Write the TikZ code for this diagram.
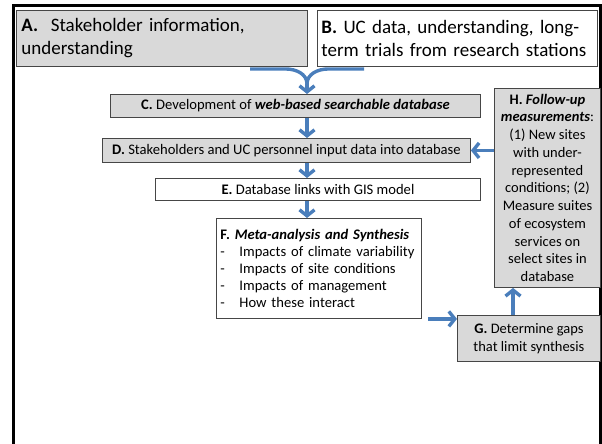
\documentclass[tikz,border=0pt]{standalone}
\usepackage{fontspec}
\setmainfont{Carlito}
\usetikzlibrary{arrows.meta}
\definecolor{flowblue}{RGB}{74,126,187}
\definecolor{boxgrey}{RGB}{217,217,217}
\definecolor{boxline}{RGB}{70,70,70}
\tikzset{box/.style={draw=boxline,line width=0.9pt,inner sep=0pt,anchor=north west}}
\tikzset{greybox/.style={box,fill=boxgrey}}
\tikzset{flow/.style={draw=flowblue,line width=3.4pt,-{Straight Barb[length=6pt,width=15pt]}}}
\tikzset{brace/.style={draw=flowblue,line width=3.4pt}}
\newcommand{\midfont}{\fontsize{14.6}{17}\selectfont}
\newcommand{\topfont}{\fontsize{19}{23}\selectfont}

\begin{document}
\begin{tikzpicture}[x=1pt,y=-1pt]
        \useasboundingbox (0,0) rectangle (602,444);
        % Draw the outer frame
        \draw[line width=3pt] (13,6) rectangle (600.5,470);
        % Boxes on top
        \node[greybox,minimum width=291pt,minimum height=56pt,
        text width=281pt,align=left,font=\topfont]
        (A) at (16,10) {\textbf{A.}~ Stakeholder information,\\understanding};
        \node[box,fill=white,minimum width=280pt,minimum height=56pt,
        text width=272pt,align=left,font=\topfont]
        (B) at (317,10) {\textbf{B.} UC data, understanding, long-\\term trials from research stations};
        % Middle column
        \node[greybox,minimum width=370pt,minimum height=23pt,font=\midfont]
        (C) at (110,94) {\textbf{C.} Development of \textbf{\textit{web-based searchable database}}};
        \node[greybox,minimum width=368pt,minimum height=24pt,font=\midfont]
        (D) at (102,138) {\textbf{D.} Stakeholders and UC personnel input data into database};
        \node[box,fill=white,minimum width=325pt,minimum height=22pt,font=\midfont]
        (E) at (155,178) {\textbf{E.} Database links with GIS model};
        \node[box,fill=white,minimum width=205pt,minimum height=100pt,
        text width=197pt,align=left,font=\midfont]
        (F) at (216,218) {\textbf{F.} \textbf{\textit{Meta-analysis and Synthesis}}\\
        \makebox[19pt][l]{-}Impacts of climate variability\\
        \makebox[19pt][l]{-}Impacts of site conditions\\
        \makebox[19pt][l]{-}Impacts of management\\
        \makebox[19pt][l]{-}How these interact};
        % Right column
        \node[greybox,minimum width=143pt,minimum height=46pt,align=center,
        font=\fontsize{14.5}{18}\selectfont]
        (G) at (457,315) {\textbf{G.} Determine gaps\\that limit synthesis};
        \node[greybox,minimum width=106pt,minimum height=199pt,align=center,
        font=\fontsize{14.5}{17.75}\selectfont]
        (H) at (494,88) {\textbf{H.} \textbf{\textit{Follow-up}}\\\textbf{\textit{measurements}}:\\
        (1) New sites\\with under-\\represented\\conditions; (2)\\Measure suites\\
        of ecosystem\\services on\\select sites in\\database};
        % Coordinates
        \coordinate (brL) at (250,69);
        \coordinate (brR) at (364,69);
        \coordinate (brM) at (307,84);
        \coordinate (gup) at (513,0);
        % Brace joining A and B
        \draw[brace] (brL) -- ++(36,0) to[out=0,in=90] (brM);
        \draw[brace] (brR) -- ++(-36,0) to[out=180,in=90] (brM);
        \draw[flow] (brM) -- (C.north -| brM);
        % Arrows down the middle
        \draw[flow] (C.south -| brM) -- (D.north -| brM);
        \draw[flow] (D.south -| brM) -- (E.north -| brM);
        \draw[flow] (E.south -| brM) -- (F.north -| brM);
        % Arrows on the right
        \draw[flow] ([xshift=6pt]F.south east) -- (G.west |- F.south east);
        \draw[flow] (G.north -| gup) -- (H.south -| gup);
        \draw[flow] (D.east -| H.west) -- (D.east);
    \end{tikzpicture}
\end{document}
